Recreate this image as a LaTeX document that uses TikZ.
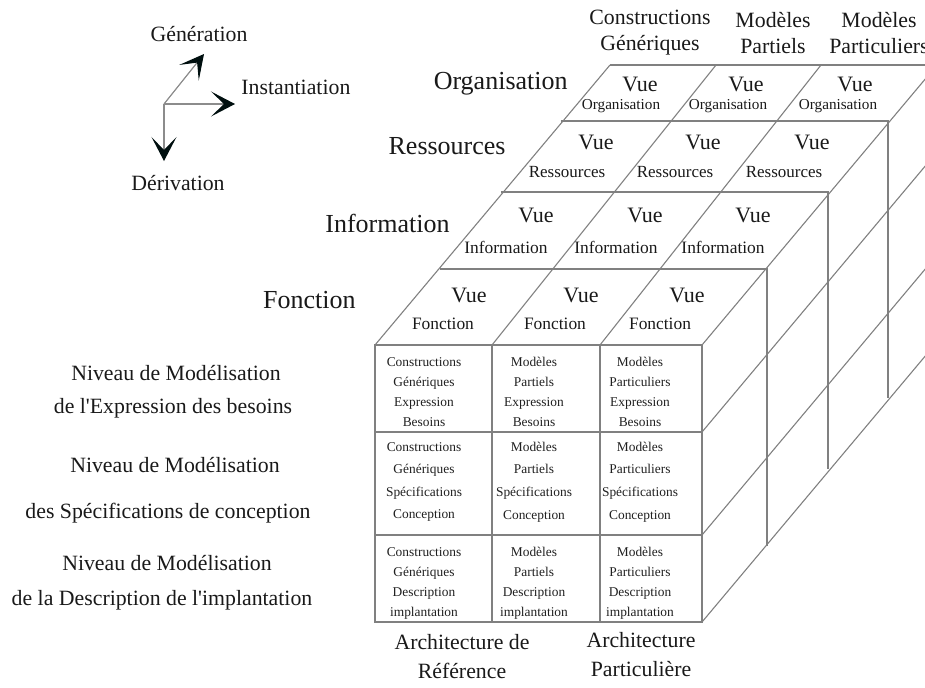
\documentclass[tikz,border=0pt]{standalone}
\usepackage{fontspec}
\setmainfont{Liberation Serif}
\usetikzlibrary{arrows.meta,calc}

\begin{document}
\begin{tikzpicture}[x=0.5pt,y=-0.5pt,
  cube/.style={draw=black!50,line width=0.55pt},
  lbl/.style={inner sep=0pt,text=black!90,align=center,font=\fontsize{10.9}{13}\selectfont},
  layer/.style={inner sep=0pt,text=black!90,anchor=east,font=\fontsize{13}{15}\selectfont},
  vue/.style={inner sep=0pt,text=black!90,font=\fontsize{11}{13}\selectfont},
  vname/.style={inner sep=0pt,text=black!90,font=\fontsize{#1}{10}\selectfont},
  cell/.style={inner sep=0pt,text=black!88,align=center,font=\fontsize{6.7}{#1}\selectfont},
  legarrow/.style={draw=black!45,line width=0.6pt,-{Stealth[length=12pt,width=12.5pt,inset=6.5pt,color=black!80!teal!60!black]}}]

\useasboundingbox (0,0) rectangle (925,687);
\clip (0,0) rectangle (925,687);

% Legend
\coordinate (o) at (164,104);
\coordinate (gen) at (204,54);
\coordinate (ins) at (235,104);
\coordinate (der) at (164,161);
\draw[legarrow] (o) -- (gen);
\draw[legarrow] (o) -- (ins);
\draw[legarrow] (o) -- (der);
\node[lbl] (tgen) at (199,34) {Génération};
\node[lbl,anchor=west] (tins) at (241,87) {Instantiation};
\node[lbl] (tder) at (178,183) {Dérivation};

% Front face
\draw[cube] (375,345) rectangle (702,622);
\draw[cube] (492,345) -- (492,622) (600,345) -- (600,622);
\draw[cube] (375,432) -- (702,432) (375,535) -- (702,535);

% Layers going back
\foreach \dx/\dy in {65/-76,126/-153,186/-224,235/-280}
  \draw[cube] (375+\dx,345+\dy) -- (702+\dx,345+\dy) -- (702+\dx,622+\dy);
\draw[cube] (375,345) -- (610,65);
\draw[cube] (492,345) -- (716,65);
\draw[cube] (600,345) -- (821,65);
\foreach \y in {345,432,535,622}
  \draw[cube] (702,\y) -- (937,\y-280);

% Column headers
\node[lbl] (hcg) at (650,33) {Constructions\\Génériques};
\node[lbl] (hmp) at (773,33) {Modèles\\Partiels};
\node[lbl] (hmq) at (879,33) {Modèles\\Particuliers};

% Layer names
\node[layer] (lorg) at (568,84) {Organisation};
\node[layer] (lres) at (506,146) {Ressources};
\node[layer] (linf) at (450,223) {Information};
\node[layer] (lfon) at (356,300) {Fonction};

% Views on the top face
\foreach \x/\y [count=\i] in {469/295,581/295,687/295,536/215,645/215,753/215,
    596/142,703/142,812/142,640/84,746/84,855/84}
  \node[vue] (vue\i) at (\x,\y) {Vue};
\foreach \x/\y/\t/\s [count=\i] in {443/324/Fonction/8.7,555/324/Fonction/8.7,660/324/Fonction/8.7,
    506/247/Information/8.7,616/247/Information/8.7,723/247/Information/8.7,
    567/172/Ressources/8.5,675/172/Ressources/8.5,784/172/Ressources/8.5,
    621/106/Organisation/7.6,728/106/Organisation/7.6,838/106/Organisation/7.6}
  \node[vname=\s] (vn\i) at (\x,\y) {\t};

% Cells of the front face
\foreach \r/\y/\sk/\wa/\wb in {1/392/10/Expression/Besoins,2/482/11.3/Spécifications/Conception,
    3/583/10/Description/implantation} {
  \node[cell=\sk] (cg\r) at (424,\y) {Constructions\\Génériques\\\wa\\\wb};
  \node[cell=\sk] (mp\r) at (534,\y) {Modèles\\Partiels\\\wa\\\wb};
  \node[cell=\sk] (mq\r) at (640,\y) {Modèles\\Particuliers\\\wa\\\wb};
}

% Modelling levels
\node[lbl] (n1a) at (176,373) {Niveau de Modélisation};
\node[lbl] (n1b) at (173,408) {de l\textquotesingle Expression des besoins};
\node[lbl] (n2a) at (175,465) {Niveau de Modélisation};
\node[lbl] (n2b) at (168,513) {des Spécifications de conception};
\node[lbl] (n3a) at (167,563) {Niveau de Modélisation};
\node[lbl] (n3b) at (162,600) {de la Description de l\textquotesingle implantation};

% Architectures
\node[lbl,font=\fontsize{10.9}{14.5}\selectfont] (aref) at (462,657) {Architecture de\\Référence};
\node[lbl,font=\fontsize{10.9}{14.5}\selectfont] (apar) at (641,655) {Architecture\\Particulière};
\end{tikzpicture}
\end{document}
